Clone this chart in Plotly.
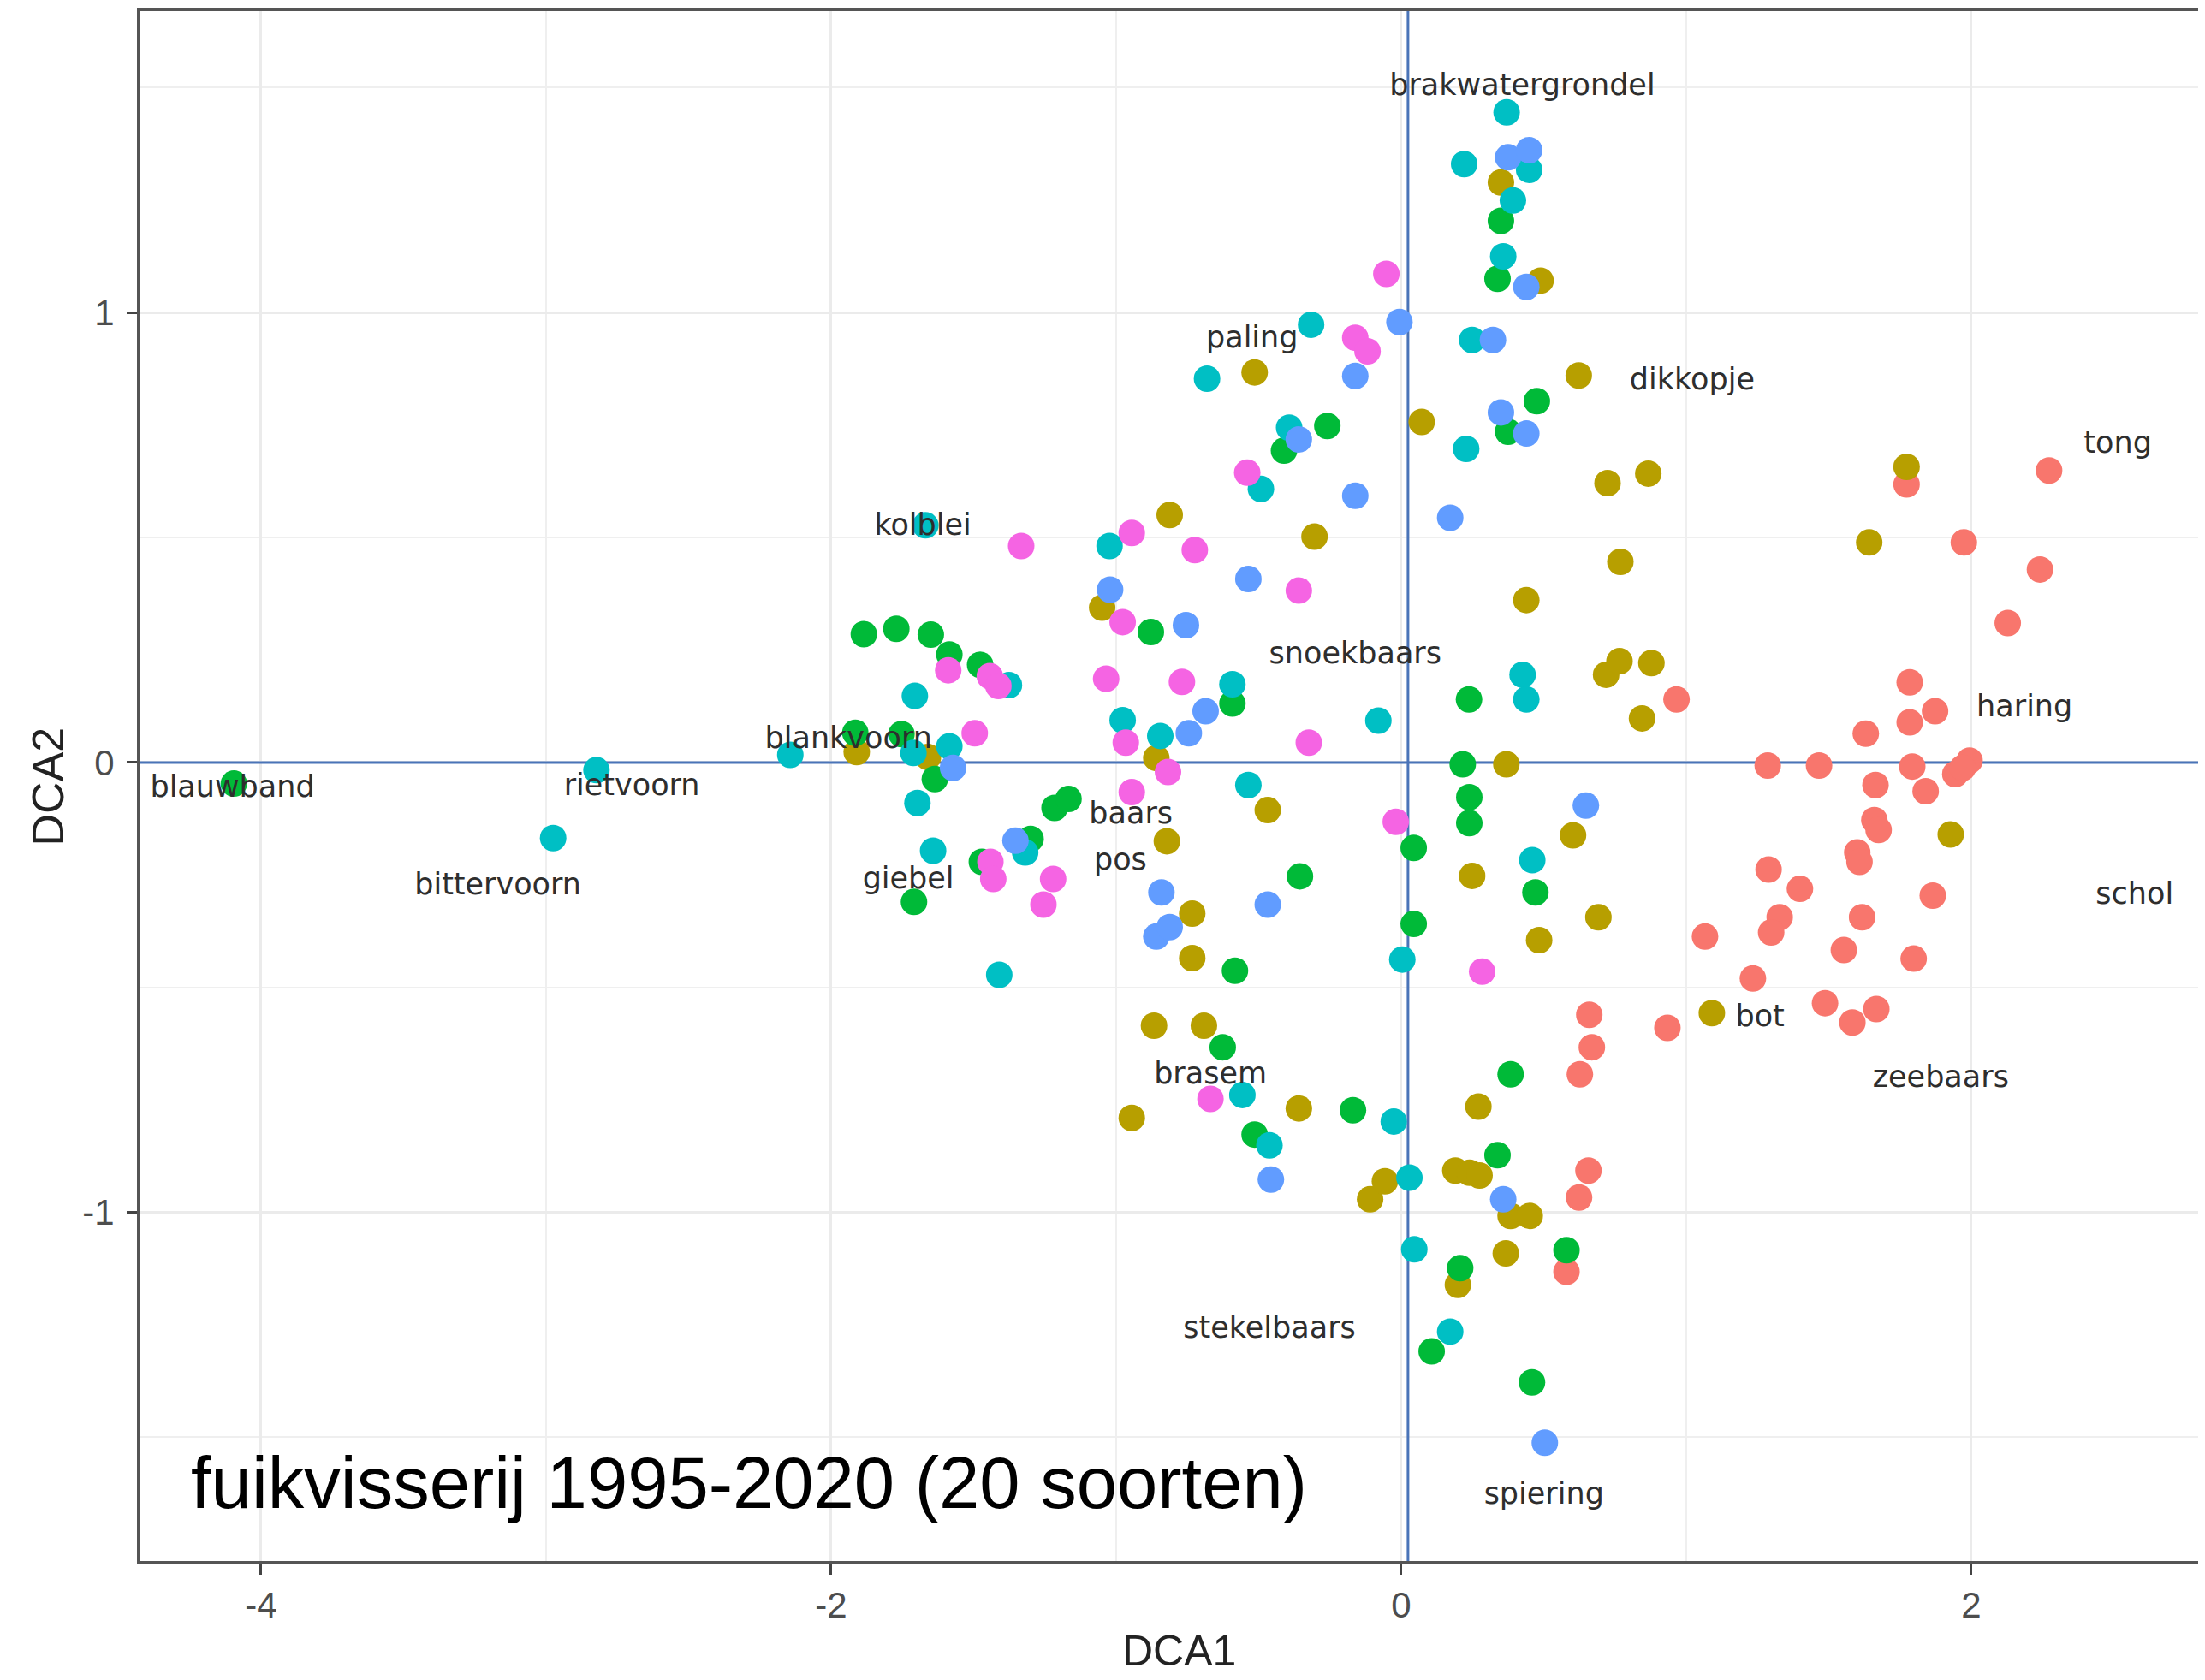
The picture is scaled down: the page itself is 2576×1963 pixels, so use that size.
import plotly.graph_objects as go

# ---- DCA site scores, one list pair per colour group ----
red_x = [1.773, 2.273, 1.974, 2.241, 2.128, 0.966, 1.784, 1.873, 1.784, 1.630, 1.286, 1.466, 1.793,
         1.944, 1.994, 1.970, 1.664, 1.840, 1.660, 1.675, 1.600, 1.608, 1.289, 1.399, 1.865, 1.328,
         1.298, 1.617, 1.066, 1.553, 1.798, 1.234, 1.487, 1.667, 1.583, 0.660, 0.934, 0.669, 0.627,
         0.657, 0.624, 0.580]
red_y = [0.618, 0.649, 0.489, 0.429, 0.310, 0.140, 0.178, 0.114, 0.089, 0.064, -0.007, -0.007, -0.009,
         -0.026, 0.004, -0.012, -0.050, -0.064, -0.128, -0.150, -0.200, -0.221, -0.238, -0.281, -0.296,
         -0.344, -0.378, -0.344, -0.387, -0.417, -0.436, -0.480, -0.535, -0.548, -0.578, -0.561, -0.590,
         -0.633, -0.693, -0.907, -0.967, -1.132]

olive_x = [-0.514, 0.072, -0.812, -0.304, 0.350, 0.489, 0.623, 0.724, 0.867, 1.773, 1.642, 0.769,
           0.439, 0.719, 0.766, 0.878, 0.845, 0.369, 0.603, 1.928, 0.249, 0.692, 0.484, 1.090, 0.271,
           -1.049, -0.859, -0.822, -0.468, -0.733, -0.733, -1.910, -1.660, -0.867, -0.692, -0.359,
           -0.945, -0.109, -0.057, 0.190, 0.240, 0.275, 0.384, 0.451, 0.367, 0.199]
olive_y = [0.867, 0.757, 0.550, 0.502, 1.289, 1.071, 0.860, 0.621, 0.642, 0.657, 0.489, 0.446,
           0.361, 0.195, 0.225, 0.221, 0.098, -0.004, -0.162, -0.160, -0.252, -0.344, -0.395, -0.557,
           -0.765, 0.344, 0.010, -0.175, -0.106, -0.336, -0.435, 0.023, 0.012, -0.585, -0.585, -0.769,
           -0.790, -0.971, -0.931, -0.907, -0.912, -0.918, -1.008, -1.008, -1.091, -1.161]

green_x = [-4.095, -0.411, -0.259, 0.350, 0.338, 0.476, 0.375, 0.238, 0.216, 0.239, 0.239, 0.471,
           0.384, -0.878, -1.885, -1.771, -1.650, -1.585, -1.477, -0.592, 0.044, 0.044, -0.355,
           -0.583, -1.216, -1.167, -1.300, -1.471, -1.709, -1.636, -1.915, -1.753, -0.626, -0.169,
           -0.514, 0.107, 0.338, 0.580, 0.207, 0.459]
green_y = [-0.047, 0.693, 0.748, 1.204, 1.075, 0.803, 0.735, 0.140, -0.004, -0.077, -0.135, -0.289,
           -0.693, 0.290, 0.285, 0.297, 0.284, 0.240, 0.217, 0.131, -0.190, -0.359, -0.253,
           -0.463, -0.101, -0.081, -0.170, -0.221, -0.310, -0.037, 0.066, 0.063, -0.633, -0.773,
           -0.827, -1.309, -0.873, -1.084, -1.124, -1.378]

cyan_x = [-2.823, -2.975, -0.316, -0.681, -0.393, -0.492, -1.023, -1.669, 0.370, 0.221, 0.449, 0.392,
          0.358, 0.249, 0.228, 0.426, 0.439, 0.460, -1.376, -1.706, -0.592, -0.977, -0.845, -0.080,
          -0.536, 0.004, -1.410, -1.319, -1.642, -1.697, -1.585, -1.711, -2.143, -0.557, -0.026,
          -0.462, 0.029, 0.046, 0.172]
cyan_y = [-0.017, -0.168, 0.973, 0.853, 0.744, 0.608, 0.481, 0.527, 1.445, 1.330, 1.317, 1.249,
          1.125, 0.939, 0.697, 0.195, 0.140, -0.217, 0.172, 0.148, 0.174, 0.094, 0.059, 0.093,
          -0.050, -0.438, -0.472, -0.200, -0.196, -0.090, 0.036, 0.021, 0.017, -0.739, -0.798,
          -0.851, -0.923, -1.082, -1.265]

blue_x = [-0.006, -0.161, -0.359, -0.161, 0.172, 0.375, 0.449, 0.439, 0.322, 0.350, 0.439, 0.648,
          -0.536, -1.021, -0.755, -0.686, -0.745, -0.468, -0.841, -0.859, -0.812, -1.353, -1.572,
          -0.457, 0.358, 0.504]
blue_y = [0.979, 0.859, 0.718, 0.593, 0.544, 1.345, 1.361, 1.057, 0.939, 0.778, 0.731, -0.096,
          0.408, 0.384, 0.305, 0.114, 0.065, -0.316, -0.289, -0.387, -0.366, -0.174, -0.012,
          -0.927, -0.971, -1.512]

pink_x = [-0.052, -0.161, -0.118, -0.540, -0.945, -0.724, -1.333, 0.284, -0.359, -0.977, -1.589,
          -1.443, -1.413, -1.035, -0.769, -0.966, -0.818, -0.945, -0.324, -0.019, -1.441, -1.431,
          -1.221, -1.255, -1.496, -0.669]
pink_y = [1.086, 0.944, 0.914, 0.644, 0.510, 0.472, 0.481, -0.465, 0.382, 0.312, 0.205,
          0.192, 0.170, 0.186, 0.179, 0.044, -0.021, -0.066, 0.044, -0.132, -0.221, -0.259,
          -0.259, -0.316, 0.065, -0.748]

# ---- species scores (labels) ----
species = ["brakwatergrondel", "paling", "dikkopje", "tong", "kolblei", "snoekbaars", "haring",
           "blankvoorn", "blauwband", "rietvoorn", "bittervoorn", "baars", "pos", "giebel",
           "schol", "bot", "zeebaars", "brasem", "stekelbaars", "spiering"]
species_x = [0.425, -0.523, 1.021, 2.514, -1.678, -0.161, 2.187, -1.939, -4.100, -2.699, -3.169,
             -0.948, -0.985, -1.729, 2.573, 1.259, 1.893, -0.669, -0.462, 0.501]
species_y = [1.500, 0.939, 0.846, 0.706, 0.523, 0.238, 0.119, 0.048, -0.060, -0.055, -0.276,
             -0.119, -0.221, -0.264, -0.298, -0.569, -0.705, -0.697, -1.261, -1.631]

x_ticks = [-4, -2, 0, 2]
x_ticktext = ["-4", "-2", "0", "2"]
y_ticks = [-1, 0, 1]
y_ticktext = ["-1", "0", "1"]

x_range = [-4.423, 2.82]
y_range = [-1.775, 1.670]

groups = [
    ("1", red_x, red_y, "#F8766D"),
    ("2", olive_x, olive_y, "#B79F00"),
    ("3", green_x, green_y, "#00BA38"),
    ("4", cyan_x, cyan_y, "#00BFC4"),
    ("5", blue_x, blue_y, "#619CFF"),
    ("6", pink_x, pink_y, "#F564E3"),
]

fig = go.Figure()

# reference lines through the origin (drawn under the points)
line_col = "#4A74B8"
fig.add_trace(go.Scatter(x=x_range, y=[0, 0], mode="lines", line=dict(color=line_col, width=3),
                         hoverinfo="skip", showlegend=False))
fig.add_trace(go.Scatter(x=[0.024, 0.024], y=y_range, mode="lines", line=dict(color=line_col, width=3),
                         hoverinfo="skip", showlegend=False))

for name, xs, ys, col in groups:
    fig.add_trace(go.Scatter(x=xs, y=ys, mode="markers", name=name,
                             marker=dict(size=31, color=col, line=dict(width=0))))

fig.add_trace(go.Scatter(x=species_x, y=species_y, mode="text", text=species,
                         textposition="middle center",
                         textfont=dict(family="DejaVu Sans", size=35, color="#2E2E2E"),
                         showlegend=False))

fig.add_annotation(text="fuikvisserij 1995-2020 (20 soorten)", x=-4.251, y=-1.600,
                   xref="x", yref="y", xanchor="left", yanchor="middle", showarrow=False,
                   font=dict(family="Liberation Sans, Arial", size=85, color="#000000"))

fig.add_annotation(text="DCA1", x=0.503, y=-0.058, xref="paper", yref="paper",
                   xanchor="center", yanchor="middle", showarrow=False, borderpad=0,
                   font=dict(family="Liberation Sans, Arial", size=50, color="#222222"))
fig.add_annotation(text="DCA2", x=-0.0448, y=0.5, xref="paper", yref="paper",
                   xanchor="center", yanchor="middle", showarrow=False, textangle=-90, borderpad=0,
                   font=dict(family="Liberation Sans, Arial", size=52, color="#222222"))

axis_common = dict(showgrid=True, gridcolor="#EBEBEB", gridwidth=3, zeroline=False,
                   showline=True, linecolor="#555555", linewidth=4,
                   ticks="outside", ticklen=12, tickwidth=3, tickcolor="#444444",
                   tickfont=dict(family="Liberation Sans, Arial", size=42, color="#4D4D4D"))

fig.update_xaxes(range=x_range, tickmode="array", tickvals=x_ticks, ticktext=x_ticktext, mirror=True,
                 minor=dict(dtick=1, tick0=0, showgrid=True, gridcolor="#EFEFEF", gridwidth=2),
                 **axis_common)
fig.update_yaxes(range=y_range, tickmode="array", tickvals=y_ticks, ticktext=y_ticktext, mirror=False,
                 minor=dict(dtick=0.5, tick0=0, showgrid=True, gridcolor="#EFEFEF", gridwidth=2),
                 ticklabelstandoff=6, **axis_common)

# page body has an 8px margin, so the figure is 8px smaller and shifted margins compensate
fig.update_layout(width=2568, height=1955, margin=dict(l=156, r=0, t=5, b=139),
                  plot_bgcolor="white", paper_bgcolor="white", showlegend=False)

fig.write_html("out.html")
